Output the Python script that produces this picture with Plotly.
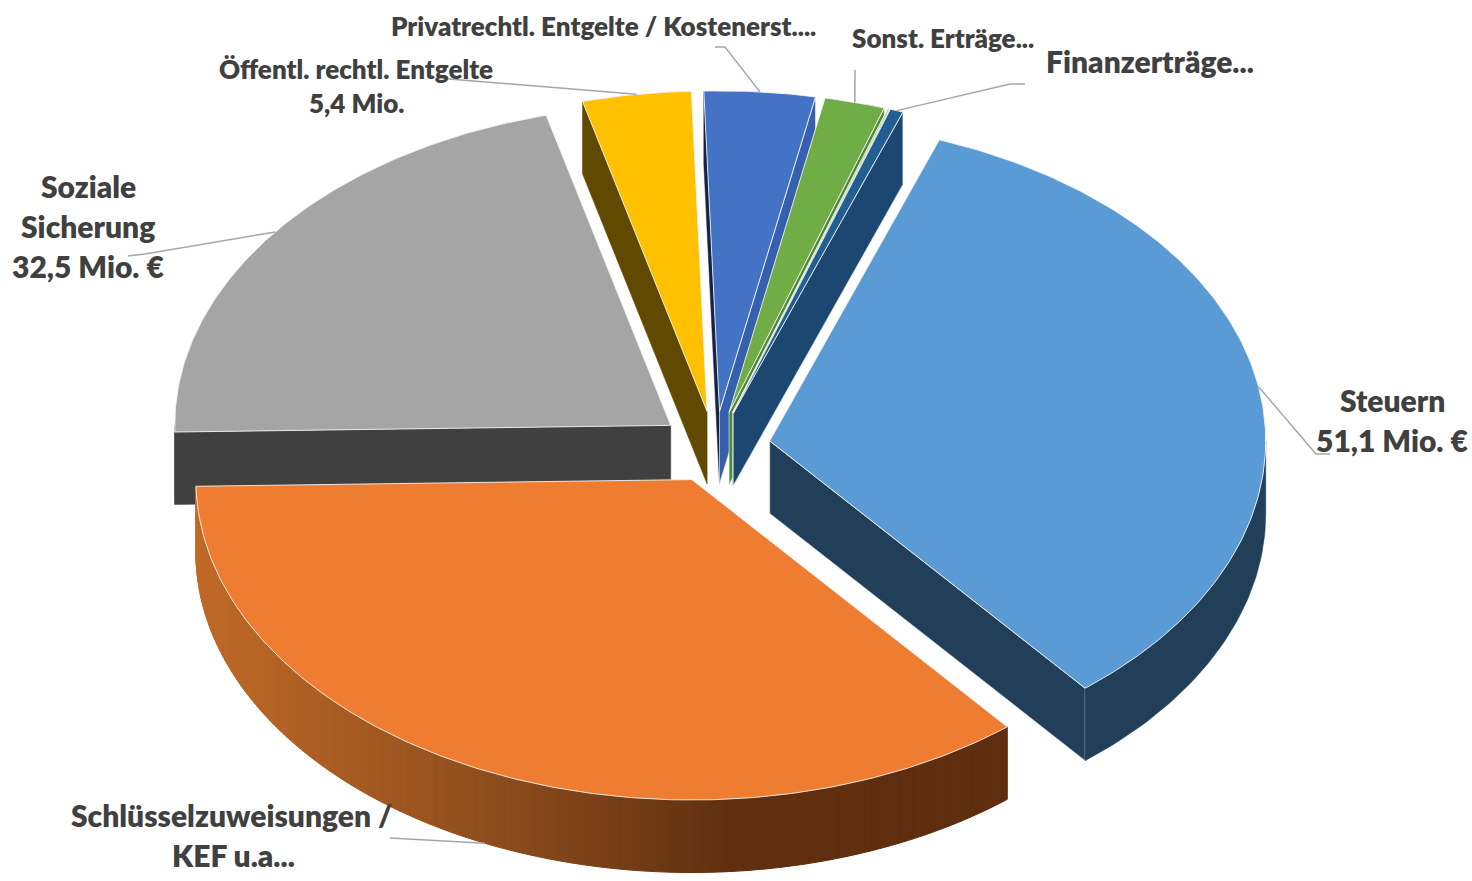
import math
import plotly.graph_objects as go

# ---- data -------------------------------------------------------------
categories = ["Steuern", "Schlüsselzuweisungen / KEF u.a.", "Soziale Sicherung",
              "Öffentl. rechtl. Entgelte", "Privatrechtl. Entgelte / Kostenerst.",
              "Sonst. Erträge", "Weitere", "Finanzerträge"]
values = [51.1, 54.4, 32.5, 5.4, 5.5, 3.0, 0.1, 0.65]

top_colors = ["#5B9BD5", "#EE7D31", "#A5A5A5", "#FFC000", "#4472C4", "#70AD47", "#B4D896", "#235E93"]
start_face_colors = ["#223F59", "#5F2E0F", "#404040", "#614A00", "#142244", "#43682B", "#5E8F3C", "#1B466E"]
end_face_colors = ["#223F59", "#5F2E0F", "#404040", "#614A00", "#3560AE", "#4E8A35", "#5E8F3C", "#1C4770"]
rim_colors = ["#223F59", None, "#404040", "#614A00", "#2F4F90", "#43682B", "#5E8F3C", "#1B466E"]
draw_order = [3, 4, 5, 6, 7, 2, 0, 1]

# gradient of the orange rim: x position -> colour
rim_gradient_x = [190, 470, 730, 1010]
rim_gradient_rgb = [(194, 107, 40), (146, 80, 30), (96, 48, 16), (94, 46, 15)]

label_lines = [
    ("Privatrechtl. Entgelte / Kostenerst....", 603, 26, 26),
    ("Öffentl. rechtl. Entgelte", 356, 69, 26),
    ("5,4 Mio.", 356, 103, 26),
    ("Soziale", 88, 186, 30),
    ("Sicherung", 88, 226, 30),
    ("32,5 Mio. €", 88, 266, 30),
    ("Sonst. Erträge...", 943, 38, 26),
    ("Finanzerträge...", 1150, 61, 30),
    ("Steuern", 1392, 400, 30),
    ("51,1 Mio. €", 1392, 440, 30),
    ("Schlüsselzuweisungen /", 231, 815, 30),
    ("KEF u.a...", 233, 855, 30),
]
# slice index, on the bottom edge?, elbow points towards the label
leaders = [
    (0, False, [(1316, 454), (1330, 454)]),
    (1, True, [(390, 838)]),
    (2, False, [(145, 254), (128, 256)]),
    (3, False, [(453, 79), (437, 78)]),
    (4, False, [(725, 47), (715, 47)]),
    (5, False, [(855, 70)]),
    (7, False, [(1010, 84), (1025, 84)]),
]

# ---- geometry ---------------------------------------------------------
CX, CY = 715.0, 447.0
RX, TILT, EXPLODE, DEPTH = 496.0, 0.646, 55.5, 72.5
START = 20.0
scale = 360.0 / sum(values)

spans = []
a = START
for v in values:
    spans.append((a, a + v * scale))
    a += v * scale


def pt(i, theta, r=1.0, low=False):
    t0, t1 = spans[i]
    m = math.radians((t0 + t1) / 2)
    th = math.radians(theta)
    x = CX + EXPLODE * math.sin(m) + r * RX * math.sin(th)
    y = CY - TILT * EXPLODE * math.cos(m) - r * TILT * RX * math.cos(th)
    return x, y + (DEPTH if low else 0)


def poly(pts, fill, line=None, width=1.0, name=""):
    xs = [p[0] for p in pts] + [pts[0][0]]
    ys = [p[1] for p in pts] + [pts[0][1]]
    return go.Scatter(x=xs, y=ys, mode="lines", fill="toself", fillcolor=fill,
                      line=dict(color=line or fill, width=width),
                      hoverinfo="text", text=name, showlegend=False)


def grad(x):
    xs, cs = rim_gradient_x, rim_gradient_rgb
    if x <= xs[0]:
        return "rgb(%d,%d,%d)" % cs[0]
    for k in range(len(xs) - 1):
        if x <= xs[k + 1]:
            f = (x - xs[k]) / (xs[k + 1] - xs[k])
            c = [cs[k][j] + f * (cs[k + 1][j] - cs[k][j]) for j in range(3)]
            return "rgb(%d,%d,%d)" % tuple(c)
    return "rgb(%d,%d,%d)" % cs[-1]


fig = go.Figure()
for i in draw_order:
    t0, t1 = spans[i]
    name = f"{categories[i]}: {values[i]}"
    # cut faces: only those turned towards the viewer
    if math.sin(math.radians(t0)) < 0:
        fig.add_trace(poly([pt(i, t0, 0), pt(i, t0), pt(i, t0, low=True), pt(i, t0, 0, True)],
                           start_face_colors[i], None, 0.5, name))
    if math.sin(math.radians(t1)) > 0:
        fig.add_trace(poly([pt(i, t1, 0), pt(i, t1), pt(i, t1, low=True), pt(i, t1, 0, True)],
                           end_face_colors[i], "#DDE6EE", 0.7, name))
    # outer rim
    lo, hi = max(t0, 90.0), min(t1, 270.0)
    if hi > lo:
        if rim_colors[i] is None:
            n = int((hi - lo) / 0.6) + 1
            for k in range(n):
                a0 = lo + (hi - lo) * k / n
                a1 = lo + (hi - lo) * (k + 1) / n
                col = grad(pt(i, (a0 + a1) / 2)[0])
                fig.add_trace(poly([pt(i, a0), pt(i, a1), pt(i, a1, low=True), pt(i, a0, low=True)],
                                   col, None, 1.0, name))
        else:
            n = max(int(hi - lo), 2)
            arc = [lo + (hi - lo) * k / n for k in range(n + 1)]
            fig.add_trace(poly([pt(i, t) for t in arc] + [pt(i, t, low=True) for t in reversed(arc)],
                               rim_colors[i], None, 0.6, name))
    # top
    n = max(int((t1 - t0) * 1.5), 2)
    arc = [t0 + (t1 - t0) * k / n for k in range(n + 1)]
    fig.add_trace(poly([pt(i, 0, 0)] + [pt(i, t) for t in arc], top_colors[i], "#F4F4F4", 0.9, name))

for i, low, elbow in leaders:
    t0, t1 = spans[i]
    anchor = pt(i, (t0 + t1) / 2, low=low)
    pts = [anchor] + elbow
    fig.add_trace(go.Scatter(x=[p[0] for p in pts], y=[p[1] for p in pts], mode="lines",
                             line=dict(color="#A6A6A6", width=1.5), hoverinfo="skip", showlegend=False))

annotations = [dict(x=x, y=y, text=t, showarrow=False, xanchor="center", yanchor="middle",
                    font=dict(family="Lato", size=s, color="#404040", weight=800))
               for t, x, y, s in label_lines]

fig.update_layout(
    width=1472, height=881, margin=dict(l=0, r=0, t=0, b=0),
    paper_bgcolor="white", plot_bgcolor="white", showlegend=False,
    xaxis=dict(range=[0, 1472], visible=False, fixedrange=True),
    yaxis=dict(range=[881, 0], visible=False, fixedrange=True),
    annotations=annotations,
)
fig.write_html("out.html", config={"displayModeBar": False},
               post_script="document.body.style.margin='0';document.body.style.overflow='hidden';")
